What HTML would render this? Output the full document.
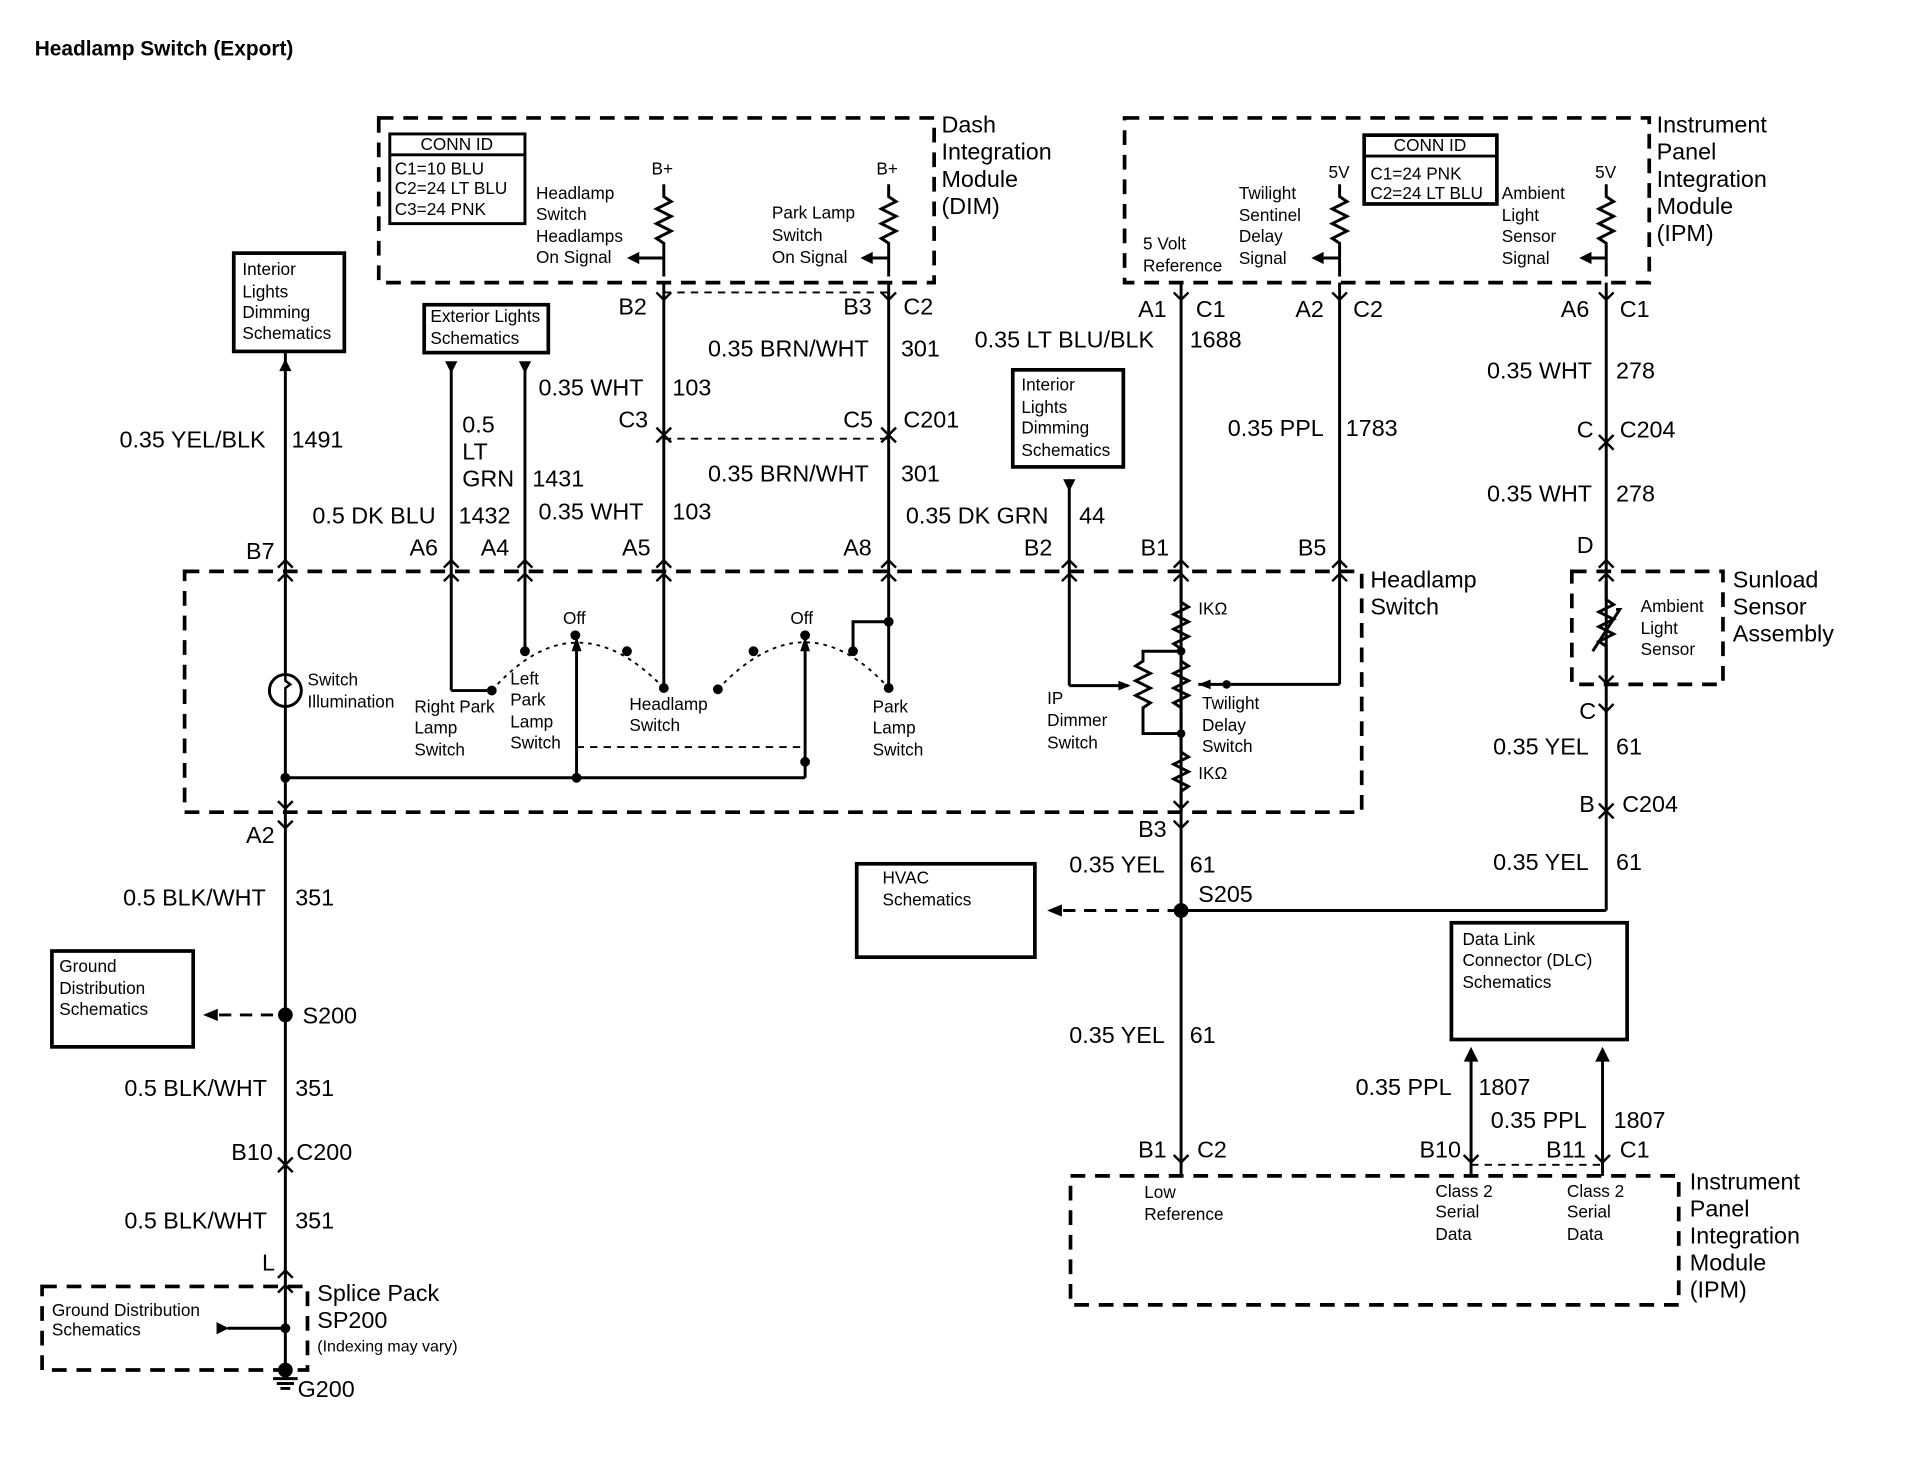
<!DOCTYPE html>
<html><head><meta charset="utf-8"><style>
html,body{margin:0;padding:0;background:#fff;}
svg{display:block;}
text{font-family:"Liberation Sans",Arial,sans-serif;fill:#000;}
.w{font-size:19px;}
.s{font-size:14px;}
.b{font-size:19px;}
</style></head><body>
<svg width="1926" height="1472" viewBox="0 0 1567 1198" xmlns="http://www.w3.org/2000/svg">
<g stroke="#000" stroke-width="2.4" fill="none">
<!-- dashed boxes -->
<g stroke-dasharray="12,8" stroke-width="3">
<rect x="308" y="96" width="452" height="134"/>
<rect x="915" y="96" width="427" height="134"/>
<rect x="150" y="465" width="958" height="196"/>
<rect x="1279" y="465" width="123" height="92"/>
<rect x="34" y="1047" width="216" height="68"/>
<rect x="871" y="957" width="495" height="105"/>
</g>
<!-- solid boxes -->
<rect x="317" y="109" width="110" height="73"/><line x1="317" y1="126" x2="427" y2="126"/>
<rect x="1110" y="110" width="108" height="56" stroke-width="3"/><line x1="1110" y1="127" x2="1218" y2="127"/>
<rect x="190" y="206" width="90" height="80" stroke-width="3"/>
<rect x="345" y="248" width="101" height="39" stroke-width="3"/>
<rect x="824" y="301" width="90" height="79" stroke-width="3"/>
<rect x="42" y="774" width="115" height="78" stroke-width="3"/>
<rect x="697" y="703" width="145" height="76" stroke-width="3"/>
<rect x="1181" y="751" width="143" height="95" stroke-width="3"/>
<!-- resistors top -->
<path d="M540,150 V160 l6,4 l-12,6 l12,6 l-12,6 l12,6 l-12,6 l6,4 V225"/>
<path d="M723,150 V160 l6,4 l-12,6 l12,6 l-12,6 l12,6 l-12,6 l6,4 V225"/>
<path d="M1090,150 V160 l6,4 l-12,6 l12,6 l-12,6 l12,6 l-12,6 l6,4 V225"/>
<path d="M1307,150 V160 l6,4 l-12,6 l12,6 l-12,6 l12,6 l-12,6 l6,4 V225"/>
<path d="M540,210 H515 M723,210 H705 M1090,210 H1072 M1307,210 H1290"/>
<!-- main wires -->
<line x1="540" y1="230" x2="540" y2="560"/>
<line x1="723" y1="230" x2="723" y2="560"/>
<line x1="232" y1="286" x2="232" y2="1115"/>
<line x1="367" y1="296" x2="367" y2="562"/><line x1="367" y1="562" x2="400" y2="562"/>
<line x1="427" y1="296" x2="427" y2="530"/>
<line x1="961" y1="230" x2="961" y2="957"/>
<line x1="1090" y1="230" x2="1090" y2="557"/><line x1="1090" y1="557" x2="975" y2="557"/>
<line x1="870" y1="390" x2="870" y2="558"/><line x1="870" y1="558" x2="918" y2="558"/>
<line x1="1307" y1="230" x2="1307" y2="741"/><line x1="1307" y1="741" x2="961" y2="741"/>
<line x1="1197" y1="858" x2="1197" y2="957"/>
<line x1="1304" y1="858" x2="1304" y2="957"/>
<!-- dashed links -->
<g stroke-dasharray="6,5" stroke-width="1.5">
<line x1="540" y1="238" x2="723" y2="238"/>
<line x1="540" y1="357" x2="723" y2="357"/>
<line x1="469" y1="608" x2="655" y2="608"/>
<line x1="1197" y1="948" x2="1304" y2="948"/>
</g>
<g stroke-dasharray="10,7" stroke-width="2.4">
<line x1="865" y1="741" x2="961" y2="741"/>
<line x1="178" y1="826" x2="232" y2="826"/>
</g>
<!-- headlamp switch internals -->
<circle cx="232" cy="562" r="13" fill="#fff"/>
<path d="M232,549 v5 l4,3 l-4,3 v15" stroke-width="2"/>
<line x1="232" y1="633" x2="655" y2="633"/>
<line x1="469" y1="633" x2="469" y2="522"/>
<line x1="655" y1="633" x2="655" y2="522"/>
<path d="M723,506 H694 V530"/>
<path d="M400,562 Q468,485 540,560" stroke-dasharray="3,4" stroke-width="1.5"/>
<path d="M584,561 Q655,485 723,560" stroke-dasharray="3,4" stroke-width="1.5"/>
<!-- pot -->
<path d="M961,465 V490 l6,4 l-12,6 l12,6 l-12,6 l12,6 l-12,6 l6,4 V597 M961,530 H930 V538 l-6,4 l12,6 l-12,6 l12,6 l-12,6 l12,6 l-6,4 V597 H961 M961,538 l6,4 l-12,6 l12,6 l-12,6 l12,6 l-12,6 l6,4 M961,597 V612 l6,4 l-12,6 l12,6 l-12,6 l12,6 l-6,4 V661"/>
<!-- ground splice -->
<line x1="185" y1="1081" x2="232" y2="1081"/>
<path d="M222,1122 h20 M225,1126 h14 M228,1130 h8"/>
</g>
<!-- dots -->
<g fill="#000">
<circle cx="232" cy="633" r="4"/><circle cx="469" cy="633" r="4"/><circle cx="655" cy="620" r="4"/>
<circle cx="400" cy="562" r="4"/><circle cx="427" cy="530" r="4"/><circle cx="468" cy="517" r="4"/><circle cx="510" cy="530" r="4"/><circle cx="540" cy="560" r="4"/>
<circle cx="584" cy="561" r="4"/><circle cx="613" cy="530" r="4"/><circle cx="655" cy="517" r="4"/><circle cx="694" cy="530" r="4"/><circle cx="723" cy="560" r="4"/><circle cx="723" cy="506" r="4"/>
<circle cx="961" cy="530" r="3.5"/><circle cx="961" cy="597" r="3.5"/><circle cx="998" cy="557" r="3.5"/>
<circle cx="961" cy="741" r="6"/><circle cx="232" cy="826" r="6"/><circle cx="232" cy="1081" r="4"/><circle cx="232" cy="1115" r="6"/>
<!-- arrowheads -->
<path d="M510,210 l10,-5 v10 z M700,210 l10,-5 v10 z M1067,210 l10,-5 v10 z M1285,210 l10,-5 v10 z"/>
<path d="M232,292 l-5,10 h10 z M362,294 h10 l-5,10 z M422,294 h10 l-5,10 z M865,390 h10 l-5,10 z"/>
<path d="M469,518 l-4,12 h8 z M655,518 l-4,12 h8 z"/>
<path d="M920,558 l-10,-4 v8 z M975,557 l10,-4 v8 z"/>
<path d="M852,741 l12,-5 v10 z M165,826 l12,-5 v10 z M186,1081 l-10,-5 v10 z"/>
<path d="M1197,852 l-6,12 h12 z M1304,852 l-6,12 h12 z"/>
</g>
<!-- connector marks: top pins -->
<g stroke="#000" stroke-width="2" fill="none">
<path d="M226,462 l6,-6 l6,6 M226,473 l6,-6 l6,6 M361,462 l6,-6 l6,6 M361,473 l6,-6 l6,6 M421,462 l6,-6 l6,6 M421,473 l6,-6 l6,6 M534,462 l6,-6 l6,6 M534,473 l6,-6 l6,6 M717,462 l6,-6 l6,6 M717,473 l6,-6 l6,6 M864,462 l6,-6 l6,6 M864,473 l6,-6 l6,6 M955,462 l6,-6 l6,6 M955,473 l6,-6 l6,6 M1084,462 l6,-6 l6,6 M1084,473 l6,-6 l6,6 M1301,462 l6,-6 l6,6 M1301,473 l6,-6 l6,6"/>
<path d="M226,652 l6,6 l6,-6 M226,668 l6,6 l6,-6 M955,652 l6,6 l6,-6 M955,668 l6,6 l6,-6"/>
<path d="M534,238 l6,6 l6,-6 M717,238 l6,6 l6,-6 M955,238 l6,6 l6,-6 M1084,238 l6,6 l6,-6 M1301,238 l6,6 l6,-6"/>
<path d="M534,348 l6,6 l6,-6 M534,360 l6,-6 l6,6 M717,348 l6,6 l6,-6 M717,360 l6,-6 l6,6"/>
<path d="M1301,354 l6,6 l6,-6 M1301,366 l6,-6 l6,6 M1301,550 l6,6 l6,-6 M1301,573 l6,6 l6,-6 M1301,654 l6,6 l6,-6 M1301,666 l6,-6 l6,6"/>
<path d="M226,942 l6,6 l6,-6 M226,954 l6,-6 l6,6 M955,940 l6,6 l6,-6 M1191,940 l6,6 l6,-6 M1298,940 l6,6 l6,-6 M226,1040 l6,-6 l6,6 M226,1052 l6,-6 l6,6"/>
</g>
<!-- sunload sensor -->
<g stroke="#000" stroke-width="2.4" fill="none">
<path d="M1307,473 V488 l6,4 l-12,6 l12,6 l-12,6 l12,6 l-12,6 l6,4 V552"/>
<path d="M1296,530 L1318,496 l-3,0"/>
</g>
<!-- text -->
<text x="28" y="45" font-size="17" font-weight="bold">Headlamp Switch (Export)</text>
<g class="s">
<text x="342" y="122">CONN ID</text><text x="321" y="142">C1=10 BLU</text><text x="321" y="158">C2=24 LT BLU</text><text x="321" y="175">C3=24 PNK</text>
<text x="1134" y="123">CONN ID</text><text x="1115" y="146">C1=24 PNK</text><text x="1115" y="162">C2=24 LT BLU</text>
<text x="530" y="142">B+</text><text x="713" y="142">B+</text><text x="1081" y="145">5V</text><text x="1298" y="145">5V</text>
<text x="436" y="162">Headlamp</text><text x="436" y="179">Switch</text><text x="436" y="197">Headlamps</text><text x="436" y="214">On Signal</text>
<text x="628" y="178">Park Lamp</text><text x="628" y="196">Switch</text><text x="628" y="214">On Signal</text>
<text x="1008" y="162">Twilight</text><text x="1008" y="180">Sentinel</text><text x="1008" y="197">Delay</text><text x="1008" y="215">Signal</text>
<text x="930" y="203">5 Volt</text><text x="930" y="221">Reference</text>
<text x="1222" y="162">Ambient</text><text x="1222" y="180">Light</text><text x="1222" y="197">Sensor</text><text x="1222" y="215">Signal</text>
<text x="197" y="224">Interior</text><text x="197" y="242">Lights</text><text x="197" y="259">Dimming</text><text x="197" y="276">Schematics</text>
<text x="350" y="262">Exterior Lights</text><text x="350" y="280">Schematics</text>
<text x="831" y="318">Interior</text><text x="831" y="336">Lights</text><text x="831" y="353">Dimming</text><text x="831" y="371">Schematics</text>
<text x="250" y="558">Switch</text><text x="250" y="576">Illumination</text>
<text x="337" y="580">Right Park</text><text x="337" y="597">Lamp</text><text x="337" y="615">Switch</text>
<text x="415" y="557">Left</text><text x="415" y="574">Park</text><text x="415" y="592">Lamp</text><text x="415" y="609">Switch</text>
<text x="458" y="508">Off</text><text x="643" y="508">Off</text>
<text x="512" y="578">Headlamp</text><text x="512" y="595">Switch</text>
<text x="710" y="580">Park</text><text x="710" y="597">Lamp</text><text x="710" y="615">Switch</text>
<text x="852" y="573">IP</text><text x="852" y="591">Dimmer</text><text x="852" y="609">Switch</text>
<text x="978" y="577">Twilight</text><text x="978" y="595">Delay</text><text x="978" y="612">Switch</text>
<text x="975" y="500">IKΩ</text><text x="975" y="634">IKΩ</text>
<text x="1335" y="498">Ambient</text><text x="1335" y="516">Light</text><text x="1335" y="533">Sensor</text>
<text x="718" y="719">HVAC</text><text x="718" y="737">Schematics</text>
<text x="48" y="791">Ground</text><text x="48" y="809">Distribution</text><text x="48" y="826">Schematics</text>
<text x="1190" y="769">Data Link</text><text x="1190" y="786">Connector (DLC)</text><text x="1190" y="804">Schematics</text>
<text x="931" y="975">Low</text><text x="931" y="993">Reference</text>
<text x="1168" y="974">Class 2</text><text x="1168" y="991">Serial</text><text x="1168" y="1009">Data</text>
<text x="1275" y="974">Class 2</text><text x="1275" y="991">Serial</text><text x="1275" y="1009">Data</text>
<text x="42" y="1071">Ground Distribution</text><text x="42" y="1087">Schematics</text>
<text x="258" y="1100" font-size="13">(Indexing may vary)</text>
</g>
<g class="b">
<text x="766" y="108">Dash</text><text x="766" y="130">Integration</text><text x="766" y="152">Module</text><text x="766" y="174">(DIM)</text>
<text x="1348" y="108">Instrument</text><text x="1348" y="130">Panel</text><text x="1348" y="152">Integration</text><text x="1348" y="174">Module</text><text x="1348" y="196">(IPM)</text>
<text x="1115" y="478">Headlamp</text><text x="1115" y="500">Switch</text>
<text x="1410" y="478">Sunload</text><text x="1410" y="500">Sensor</text><text x="1410" y="522">Assembly</text>
<text x="1375" y="968">Instrument</text><text x="1375" y="990">Panel</text><text x="1375" y="1012">Integration</text><text x="1375" y="1034">Module</text><text x="1375" y="1056">(IPM)</text>
<text x="258" y="1059">Splice Pack</text><text x="258" y="1081">SP200</text><text x="242" y="1137">G200</text>
<text x="503" y="256">B2</text><text x="686" y="256">B3</text><text x="735" y="256">C2</text>
<text x="576" y="290">0.35 BRN/WHT</text><text x="733" y="290">301</text>
<text x="438" y="322">0.35 WHT</text><text x="547" y="322">103</text>
<text x="503" y="348">C3</text><text x="686" y="348">C5</text><text x="735" y="348">C201</text>
<text x="576" y="392">0.35 BRN/WHT</text><text x="733" y="392">301</text>
<text x="438" y="423">0.35 WHT</text><text x="547" y="423">103</text>
<text x="97" y="364">0.35 YEL/BLK</text><text x="237" y="364">1491</text>
<text x="376" y="352">0.5</text><text x="376" y="374">LT</text><text x="376" y="396">GRN</text><text x="433" y="396">1431</text>
<text x="254" y="426">0.5 DK BLU</text><text x="373" y="426">1432</text>
<text x="200" y="455">B7</text><text x="333" y="452">A6</text><text x="391" y="452">A4</text><text x="506" y="452">A5</text><text x="686" y="452">A8</text>
<text x="833" y="452">B2</text><text x="928" y="452">B1</text><text x="1056" y="452">B5</text>
<text x="926" y="258">A1</text><text x="973" y="258">C1</text><text x="1054" y="258">A2</text><text x="1101" y="258">C2</text>
<text x="1270" y="258">A6</text><text x="1318" y="258">C1</text>
<text x="793" y="283">0.35 LT BLU/BLK</text><text x="968" y="283">1688</text>
<text x="999" y="355">0.35 PPL</text><text x="1095" y="355">1783</text>
<text x="737" y="426">0.35 DK GRN</text><text x="878" y="426">44</text>
<text x="1210" y="308">0.35 WHT</text><text x="1315" y="308">278</text>
<text x="1283" y="356">C</text><text x="1318" y="356">C204</text>
<text x="1210" y="408">0.35 WHT</text><text x="1315" y="408">278</text>
<text x="1283" y="450">D</text>
<text x="1285" y="585">C</text><text x="1215" y="614">0.35 YEL</text><text x="1315" y="614">61</text>
<text x="1285" y="661">B</text><text x="1320" y="661">C204</text>
<text x="1215" y="708">0.35 YEL</text><text x="1315" y="708">61</text>
<text x="200" y="686">A2</text><text x="926" y="681">B3</text>
<text x="870" y="710">0.35 YEL</text><text x="968" y="710">61</text><text x="975" y="734">S205</text>
<text x="100" y="737">0.5 BLK/WHT</text><text x="240" y="737">351</text>
<text x="246" y="833">S200</text>
<text x="101" y="892">0.5 BLK/WHT</text><text x="240" y="892">351</text>
<text x="188" y="944">B10</text><text x="241" y="944">C200</text>
<text x="101" y="1000">0.5 BLK/WHT</text><text x="240" y="1000">351</text>
<text x="213" y="1034">L</text>
<text x="870" y="849">0.35 YEL</text><text x="968" y="849">61</text>
<text x="1103" y="891">0.35 PPL</text><text x="1203" y="891">1807</text>
<text x="1213" y="918">0.35 PPL</text><text x="1313" y="918">1807</text>
<text x="926" y="942">B1</text><text x="974" y="942">C2</text>
<text x="1155" y="942">B10</text><text x="1258" y="942">B11</text><text x="1318" y="942">C1</text>
</g>
</svg>
</body></html>
